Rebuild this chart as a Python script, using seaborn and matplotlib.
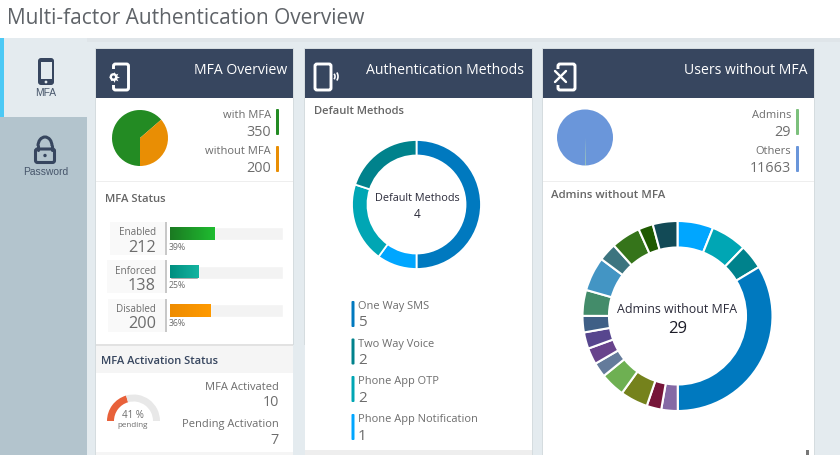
import numpy as np
import matplotlib
matplotlib.use("Agg")
import matplotlib.pyplot as plt
from matplotlib.patches import Rectangle, FancyBboxPatch, Arc, Circle
from matplotlib.colors import LinearSegmentedColormap
import pandas as pd
import seaborn as sns

# ---------- data ----------
mfa_labels = ["with MFA", "without MFA"]
mfa_values = [350, 200]
mfa_colors = ["#238b23", "#e98e04"]

status_labels = ["Enabled", "Enforced", "Disabled"]
status_counts = [212, 138, 200]
status_pct = [39, 25, 36]
status_dark = ["#1b7a22", "#008f80", "#ee8c00"]
status_light = ["#1fbc30", "#14b4a0", "#ff9a00"]

pending_pct = 41
activated = 10
pending = 7

method_labels = ["One Way SMS", "Phone App Notification", "Phone App OTP", "Two Way Voice"]
method_values = [5, 1, 2, 2]
method_colors = ["#0079bf", "#00a6ff", "#00a6b4", "#00828c"]
legend_order = [0, 3, 2, 1]

users_labels = ["Others", "Admins"]
users_values = [11663, 29]
users_colors = ["#6a96da", "#7cc07c"]

admin_total = 29
admin_shares = [6.1, 6.1, 4.2, 33.6, 2.8, 2.5, 4.7, 4.2, 2.5, 2.8, 2.8, 2.8,
                4.4, 5.8, 3.1, 5.0, 2.5, 4.2]
admin_colors = ["#00a6ff", "#00a6b4", "#00828c", "#0079bf", "#8569a5", "#761539",
                "#75821c", "#6eb052", "#647b9b", "#68438c", "#57468e", "#3f5f86",
                "#438c6a", "#4395c4", "#3c747f", "#35741a", "#1f5a00", "#124a56"]

# ---------- figure ----------
W, H = 840, 455
sns.set_theme(style="white")
plt.rcParams["font.family"] = ["Open Sans", "DejaVu Sans"]
fig = plt.figure(figsize=(W / 100, H / 100), dpi=100, facecolor="#e4ebef")
bg = fig.add_axes([0, 0, 1, 1], zorder=0)
bg.set_xlim(0, W)
bg.set_ylim(H, 0)
bg.axis("off")

NAVY = "#37465f"
GREY = "#6d6d6d"
LABEL = 8.0
NUM = 10.4


def box(x0, y0, x1, y1, c, **kw):
    bg.add_patch(Rectangle((x0, y0), x1 - x0, y1 - y0, fc=c, ec="none", **kw))


def txt(x, y, s, size=LABEL, color=GREY, ha="left", **kw):
    bg.text(x, y + 1, s, fontsize=size, color=color, ha=ha, va="center", **kw)


def inset(x, y, w, h):
    a = fig.add_axes([x / W, 1 - (y + h) / H, w / W, h / H], zorder=2)
    a.patch.set_alpha(0)
    return a


def round_rect(x0, y0, x1, y1, fc, ec="none", lw=0, pad=2):
    bg.add_patch(FancyBboxPatch((x0 + pad, y0 + pad), x1 - x0 - 2 * pad, y1 - y0 - 2 * pad,
                                boxstyle=f"round,pad={pad}", fc=fc, ec=ec, lw=lw))


def ring(x, y, r, vals, cols, width=None, gap=0.0, start=90):
    a = inset(x - r, y - r, 2 * r, 2 * r)
    wp = {"edgecolor": "white", "linewidth": gap}
    if width:
        wp["width"] = width / r
    a.pie(vals, colors=cols, startangle=start, counterclock=False, radius=1, wedgeprops=wp)
    a.set_xlim(-1, 1)
    a.set_ylim(-1, 1)
    return a


# page chrome
box(0, 0, W, 38, "white")
box(87, 38, W, 42, "#dfe5e9")
txt(7, 17, "Multi-factor Authentication Overview", size=15, color="#5f6368")
box(0, 117, 87, H, "#b3c4cd")
box(0, 38, 87, 117, "#e4ebef")
box(0, 38, 4, 117, "#4cc9f5")

# sidebar icons
round_rect(38, 58, 54, 85, NAVY, pad=3)
box(40.5, 62, 51.5, 79, "#e4ebef")
bg.add_patch(Circle((46, 82), 1.4, fc="#e4ebef", ec="none"))
txt(46, 92, "MFA", size=7.4, color="#47566b", ha="center", family="Liberation Sans")
bg.add_patch(Arc((45, 146), 14, 18, theta1=180, theta2=360, ec=NAVY, lw=2.2))
bg.plot([38, 38], [146, 150], color=NAVY, lw=2.2)
bg.plot([52, 52], [146, 150], color=NAVY, lw=2.2)
round_rect(35.5, 149, 54.5, 162.5, "none", ec=NAVY, lw=2.2, pad=2)
bg.add_patch(Circle((45, 155.5), 1.7, fc=NAVY, ec="none"))
txt(46, 171, "Password", size=7.4, color="#47566b", ha="center", family="Liberation Sans")

# panels
for x0, x1 in [(96, 293), (305, 532), (543, 814)]:
    box(x0 - 1, 48, x1 + 1, H, "#d5dcdf")
    box(x0, 49, x1, H, "white")
    box(x0, 49, x1, 98, NAVY)

box(96, 181, 293, 182, "#eeeeee")
box(96, 344, 293, 373, "#f5f5f5")
box(96, 344, 293, 346, "#e2e2e2")
box(96, 452, 293, H, "#f5f5f5")
box(293, 345, 305, H, "#e4ebef")
box(305, 450, 532, H, "#eeeeee")
box(543, 181, 814, 182, "#eeeeee")

# header text and icons
txt(287, 69.5, "MFA Overview", size=10.1, color="white", ha="right")
txt(524, 69.5, "Authentication Methods", size=10.1, color="white", ha="right")
txt(807, 69.5, "Users without MFA", size=10.1, color="white", ha="right")


def header_phone(x0, x1):
    round_rect(x0, 64, x1, 90, "none", ec="white", lw=2.1, pad=2)


header_phone(113.5, 128.5)
box(108, 69, 117, 85, NAVY)
bg.scatter([113.5], [77], s=62, marker=(8, 1, 0), color="white", linewidths=0, zorder=3)
bg.add_patch(Circle((113.5, 77), 3.9, fc="white", ec="none", zorder=3))
bg.add_patch(Circle((113.5, 77), 1.5, fc=NAVY, ec="none", zorder=4))
header_phone(315, 331)
bg.add_patch(Arc((333, 76.5), 4, 6, theta1=-70, theta2=70, ec="white", lw=1.2))
bg.add_patch(Arc((334, 76.5), 8, 11, theta1=-55, theta2=55, ec="white", lw=1.2))
header_phone(558, 575)
box(553, 69, 563, 85, NAVY)
bg.plot([555, 566], [71, 82], color="white", lw=1.7)
bg.plot([555, 566], [82, 71], color="white", lw=1.7)

# MFA overview
ring(140, 138, 28, mfa_values, mfa_colors, start=-90)
for lab, v, c, y in zip(mfa_labels, mfa_values, mfa_colors, [114, 151]):
    txt(271, y, lab, ha="right")
    txt(271, y + 17, str(v), size=NUM, ha="right")
    round_rect(276, y - 5, 279, y + 21, c, pad=1)

# MFA status
txt(105, 198, "MFA Status", size=8.1, weight="semibold", color="#666666")
ys = [233.5, 272, 310.5]
for lab, n, pct, y, bx in zip(status_labels, status_counts, status_pct, ys, [110, 107, 108]):
    box(bx, y - 12, 165, y + 21, "#f9f9f9")
    box(165, y - 12, 167, y + 21, "#c8c8c8")
    txt(156, y - 2, lab, size=7.1, ha="right")
    txt(156, y + 13, str(n), size=11.7, ha="right")
    txt(169, y + 12.5, f"{pct}%", size=6.3)

status_df = pd.DataFrame({"status": status_labels, "pct": status_pct, "track": [100] * 3})
bar_ax = inset(169.5, 214.25, 113.5, 115.5)
sns.barplot(data=status_df, y="status", x="track", color="#f3f3f3", width=13 / 38.5,
            orient="h", ax=bar_ax, saturation=1)
n_track = len(bar_ax.patches)
sns.barplot(data=status_df, y="status", x="pct", color="#999999", width=13 / 38.5,
            orient="h", ax=bar_ax, saturation=1)
grad = np.linspace(0, 1, 64).reshape(1, -1)
for p, d, l in zip(bar_ax.patches[n_track:], status_dark, status_light):
    cmap = LinearSegmentedColormap.from_list("g", [d, l])
    bar_ax.imshow(grad, cmap=cmap, aspect="auto", zorder=3,
                  extent=[p.get_x(), p.get_x() + p.get_width(),
                          p.get_y() + p.get_height(), p.get_y()])
bar_ax.set_xlim(0, 100)
bar_ax.set_ylim(2.5, -0.5)
bar_ax.axis("off")

# activation status
txt(101, 360.5, "MFA Activation Status", size=8.0, weight="semibold", color=NAVY)
a = ring(133.5, 421, 26.5, [pending_pct, 100 - pending_pct, 100],
         ["#e8613a", "#e8e8e8", "none"], width=7, start=180)
txt(133, 414.5, f"{pending_pct} %", size=7, ha="center")
txt(133, 424.5, "pending", size=5.8, ha="center")
txt(279, 386, "MFA Activated", ha="right")
txt(279, 401.5, str(activated), size=NUM, ha="right")
txt(279, 424, "Pending Activation", ha="right")
txt(279, 439.5, str(pending), size=NUM, ha="right")

# authentication methods
txt(314, 111, "Default Methods", size=8.1, weight="semibold", color="#666666")
ring(416.5, 204.5, 64.5, method_values, method_colors, width=15.5, gap=1.3)
txt(417, 197.5, "Default Methods", size=7.8, color="#2b2b3a", ha="center")
txt(417, 213, str(len(method_values)), size=8.6, color="#2b2b3a", ha="center")
for i, y in zip(legend_order, [306, 343.5, 381, 419]):
    round_rect(351.5, y - 5, 354.5, y + 21, method_colors[i], pad=1)
    txt(358, y - 0.5, method_labels[i], size=7.9)
    txt(358, y + 16, str(method_values[i]), size=11)

# users without MFA
ring(585, 137.5, 28, users_values, users_colors, start=-90)
for lab, v, c, y in zip(["Admins", "Others"], [29, 11663], ["#7cc07c", "#6a96da"], [114, 151]):
    txt(791, y, lab, ha="right")
    txt(791, y + 17, str(v), size=NUM, ha="right")
    round_rect(796, y - 5, 799, y + 21, c, pad=1)

txt(551, 194, "Admins without MFA", size=8.2, weight="semibold", color="#666666")
ring(677.5, 316, 95, admin_shares, admin_colors, width=26.5, gap=1.5)
txt(677.5, 308.5, "Admins without MFA", size=8.9, color="#2b2b3a", ha="center")
txt(677.5, 328, str(admin_total), size=12, color="#1c1c28", ha="center")
box(806, 450, 809, H, "#777777")

fig.savefig("out.png", dpi=100, facecolor=fig.get_facecolor())
